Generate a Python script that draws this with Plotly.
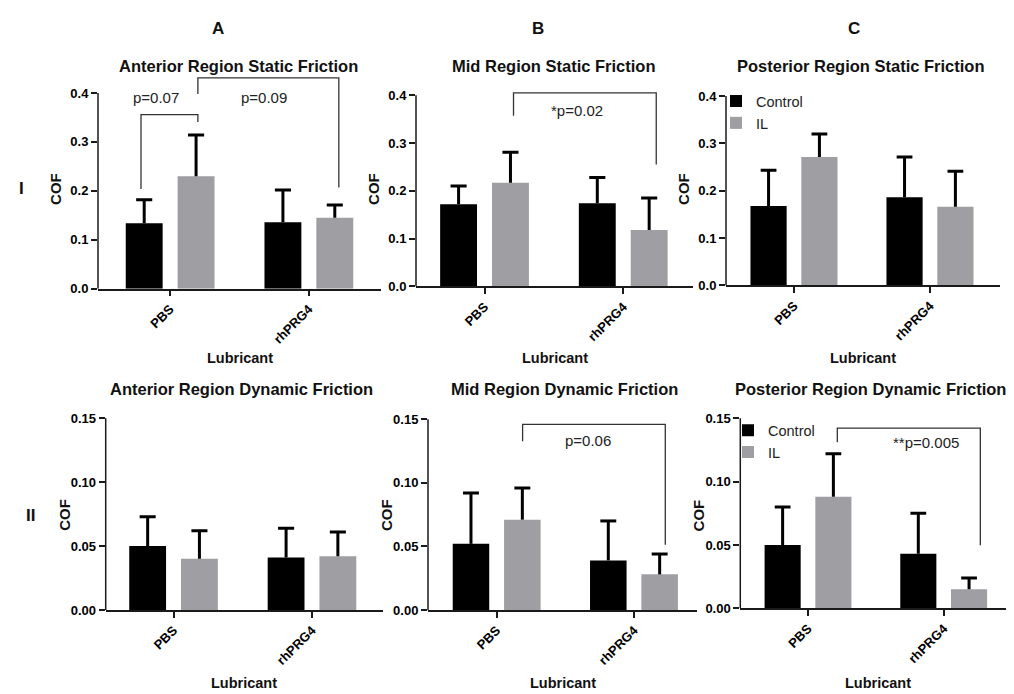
import plotly.graph_objects as go

# ---------------- data ----------------
lubricants = ["PBS", "rhPRG4"]
groups = ["Control", "IL"]

# static friction (row I)
ant_static_control = [0.134, 0.136]
ant_static_control_err = [0.048, 0.066]
ant_static_il = [0.230, 0.145]
ant_static_il_err = [0.084, 0.026]

mid_static_control = [0.172, 0.174]
mid_static_control_err = [0.038, 0.054]
mid_static_il = [0.217, 0.118]
mid_static_il_err = [0.064, 0.067]

post_static_control = [0.168, 0.186]
post_static_control_err = [0.075, 0.085]
post_static_il = [0.271, 0.166]
post_static_il_err = [0.049, 0.075]

# dynamic friction (row II)
ant_dyn_control = [0.050, 0.041]
ant_dyn_control_err = [0.023, 0.023]
ant_dyn_il = [0.040, 0.042]
ant_dyn_il_err = [0.022, 0.019]

mid_dyn_control = [0.052, 0.039]
mid_dyn_control_err = [0.040, 0.031]
mid_dyn_il = [0.071, 0.028]
mid_dyn_il_err = [0.025, 0.016]

post_dyn_control = [0.050, 0.043]
post_dyn_control_err = [0.030, 0.032]
post_dyn_il = [0.088, 0.015]
post_dyn_il_err = [0.034, 0.009]

static_ticks = [0.0, 0.1, 0.2, 0.3, 0.4]
dynamic_ticks = [0.00, 0.05, 0.10, 0.15]

titles = [
    "Anterior Region Static Friction", "Mid Region Static Friction", "Posterior Region Static Friction",
    "Anterior Region Dynamic Friction", "Mid Region Dynamic Friction", "Posterior Region Dynamic Friction",
]

# significance brackets: (panel, x_left, y_left, y_top, x_right, y_right, label, label_x, label_y)
brackets = [
    (0, -0.21, 0.204, 0.356, 0.20, 0.341, "p=0.07", -0.10, 0.390),
    (0, 0.20, 0.398, 0.431, 1.216, 0.207, "p=0.09", 0.68, 0.390),
    (1, 0.209, 0.357, 0.405, 1.238, 0.255, "*p=0.02", 0.668, 0.369),
    (4, 0.189, 0.1326, 0.146, 1.228, 0.0513, "p=0.06", 0.665, 0.133),
    (5, 0.216, 0.131, 0.1422, 1.27, 0.0497, "**p=0.005", 0.873, 0.131),
]

# ---------------- layout geometry (pixels) ----------------
W, H = 1014, 694
panels = [
    dict(x0=90, x1=373, ybot=284, ytop=86, ymax=0.4, xr=[-0.52, 1.52], tx=230),
    dict(x0=408, x1=685, ybot=281.7, ytop=88.3, ymax=0.4, xr=[-0.494, 1.503], tx=546),
    dict(x0=718, x1=992, ybot=280.7, ytop=89, ymax=0.4, xr=[-0.5, 1.515], tx=853),
    dict(x0=97.7, x1=375, ybot=609, ytop=415, ymax=0.15, xr=[-0.49, 1.513], tx=233),
    dict(x0=420, x1=689, ybot=609, ytop=416, ymax=0.15, xr=[-0.5, 1.459], tx=556),
    dict(x0=732.3, x1=1008, ybot=607.3, ytop=415, ymax=0.15, xr=[-0.499, 1.533], tx=862),
]
data = [
    (ant_static_control, ant_static_control_err, ant_static_il, ant_static_il_err),
    (mid_static_control, mid_static_control_err, mid_static_il, mid_static_il_err),
    (post_static_control, post_static_control_err, post_static_il, post_static_il_err),
    (ant_dyn_control, ant_dyn_control_err, ant_dyn_il, ant_dyn_il_err),
    (mid_dyn_control, mid_dyn_control_err, mid_dyn_il, mid_dyn_il_err),
    (post_dyn_control, post_dyn_control_err, post_dyn_il, post_dyn_il_err),
]

FONT = "Liberation Sans, Arial, sans-serif"
CONTROL_COLOR = "#000000"
IL_COLOR = "#9e9ea3"
AXIS_COLOR = "#1a1a1a"
EXT = 1.1          # extra headroom above top tick for brackets
BAR_W = 0.266      # bar width (category units)
BAR_SHIFT = 0.187  # bar centre offset from the category tick
CAP = 0.058        # half-width of error-bar caps (category units)

fig = go.Figure()
layout = dict(
    width=W, height=H,
    margin=dict(l=0, r=0, t=0, b=0),
    paper_bgcolor="white", plot_bgcolor="white",
    barmode="overlay",
    showlegend=True,
    font=dict(family=FONT, color="#000"),
)
shapes = []
annotations = []

xpos = list(range(len(lubricants)))

for i, (p, d) in enumerate(zip(panels, data)):
    n = "" if i == 0 else str(i + 1)
    xa, ya = "x" + n, "y" + n
    ctrl, ctrl_err, il, il_err = d
    legend_name = None
    show = False
    if i == 2:
        legend_name, show = "legend", True
    elif i == 5:
        legend_name, show = "legend2", True
    for name, vals, errs, col, sgn in [("Control", ctrl, ctrl_err, CONTROL_COLOR, -1),
                                        ("IL", il, il_err, IL_COLOR, 1)]:
        tr = dict(
            x=xpos, y=vals, name=name, xaxis=xa, yaxis=ya,
            width=BAR_W, offset=sgn * BAR_SHIFT - BAR_W / 2,
            marker=dict(color=col, line=dict(width=0)),
            showlegend=show, hoverinfo="skip",
        )
        if legend_name:
            tr["legend"] = legend_name
        fig.add_trace(go.Bar(**tr))
        # upper-only error bars (stem + cap)
        ex, ey = [], []
        for xc, v, e in zip(xpos, vals, errs):
            c = xc + sgn * BAR_SHIFT
            ex += [c, c, None, c - CAP, c + CAP, None]
            ey += [v, v + e, None, v + e, v + e, None]
        fig.add_trace(go.Scatter(x=ex, y=ey, mode="lines", xaxis=xa, yaxis=ya,
                                 line=dict(color="#000", width=3), showlegend=False,
                                 hoverinfo="skip"))

    toppx = p["ybot"] - (p["ybot"] - p["ytop"]) * EXT
    ticks = static_ticks if p["ymax"] > 0.2 else dynamic_ticks
    fmt = "{:.1f}" if p["ymax"] > 0.2 else "{:.2f}"
    layout["xaxis" + n] = dict(
        domain=[p["x0"] / W, p["x1"] / W], range=p["xr"], anchor=ya,
        tickvals=xpos, ticktext=lubricants, tickangle=-45,
        ticks="outside", ticklen=6, tickwidth=1.5, tickcolor=AXIS_COLOR,
        showline=True, linecolor=AXIS_COLOR, linewidth=1.5,
        showgrid=False, zeroline=False, fixedrange=True,
        tickfont=dict(family=FONT, size=13, color="#000", weight="bold"),
    )
    layout["yaxis" + n] = dict(
        domain=[1 - p["ybot"] / H, 1 - toppx / H], range=[0, p["ymax"] * EXT], anchor=xa,
        tickvals=ticks, ticktext=[fmt.format(t) for t in ticks],
        ticks="outside", ticklen=6, tickwidth=1.5, tickcolor=AXIS_COLOR,
        showline=False, showgrid=False, zeroline=False, fixedrange=True,
        tickfont=dict(family=FONT, size=13, color="#000", weight="bold"),
    )
    # y axis line stops at the top tick
    shapes.append(dict(type="line", xref=xa + " domain", yref=ya, x0=0, x1=0, y0=0, y1=p["ymax"],
                       line=dict(color=AXIS_COLOR, width=1.5)))
    # panel title
    annotations.append(dict(
        text="<b>%s</b>" % titles[i], xref="paper", yref="paper",
        x=p["tx"] / W, y=1 - (59 if i < 3 else 385) / H,
        showarrow=False, xanchor="center", yanchor="middle",
        font=dict(family=FONT, size=16.5, color="#111"),
    ))
    # y title
    annotations.append(dict(
        text="<b>COF</b>", xref="paper", yref="paper",
        x=(p["x0"] - 42) / W, y=1 - (183 if i < 3 else 513) / H, textangle=-90,
        showarrow=False, xanchor="center", yanchor="middle",
        font=dict(family=FONT, size=15, color="#111"),
    ))
    # x title
    annotations.append(dict(
        text="<b>Lubricant</b>", xref="paper", yref="paper",
        x=(p["x0"] + p["x1"]) / 2 / W, y=1 - (354 if i < 3 else 683) / H,
        showarrow=False, xanchor="center", yanchor="middle",
        font=dict(family=FONT, size=14.5, color="#111"),
    ))

for (pi, xl, yl, yt, xr_, yr, lab, lx, ly) in brackets:
    n = "" if pi == 0 else str(pi + 1)
    shapes.append(dict(
        type="path", xref="x" + n, yref="y" + n,
        path="M %g,%g L %g,%g L %g,%g L %g,%g" % (xl, yl, xl, yt, xr_, yt, xr_, yr),
        line=dict(color="#333", width=1.3),
    ))
    annotations.append(dict(
        text=lab, xref="x" + n, yref="y" + n, x=lx, y=ly, showarrow=False,
        xanchor="center", yanchor="middle",
        font=dict(family=FONT, size=15, color="#222"),
    ))

# column / row letters
for lab, x, y in [("A", 210, 21), ("B", 530, 21), ("C", 846, 21), ("I", 13, 183), ("II", 22, 513)]:
    annotations.append(dict(
        text="<b>%s</b>" % lab, xref="paper", yref="paper", x=x / W, y=1 - y / H,
        showarrow=False, xanchor="center", yanchor="middle",
        font=dict(family=FONT, size=17, color="#111"),
    ))

layout["legend"] = dict(x=708 / W, y=1 - 78 / H, xanchor="left", yanchor="top",
                        bgcolor="rgba(0,0,0,0)", font=dict(family=FONT, size=14.5, color="#222"),
                        tracegroupgap=0, itemclick=False)
layout["legend2"] = dict(x=720 / W, y=1 - 411 / H, xanchor="left", yanchor="top",
                         bgcolor="rgba(0,0,0,0)", font=dict(family=FONT, size=14.5, color="#222"),
                         tracegroupgap=0, itemclick=False)
layout["shapes"] = shapes
layout["annotations"] = annotations
fig.update_layout(**layout)

fig.write_html("out.html", config={"displayModeBar": False})
